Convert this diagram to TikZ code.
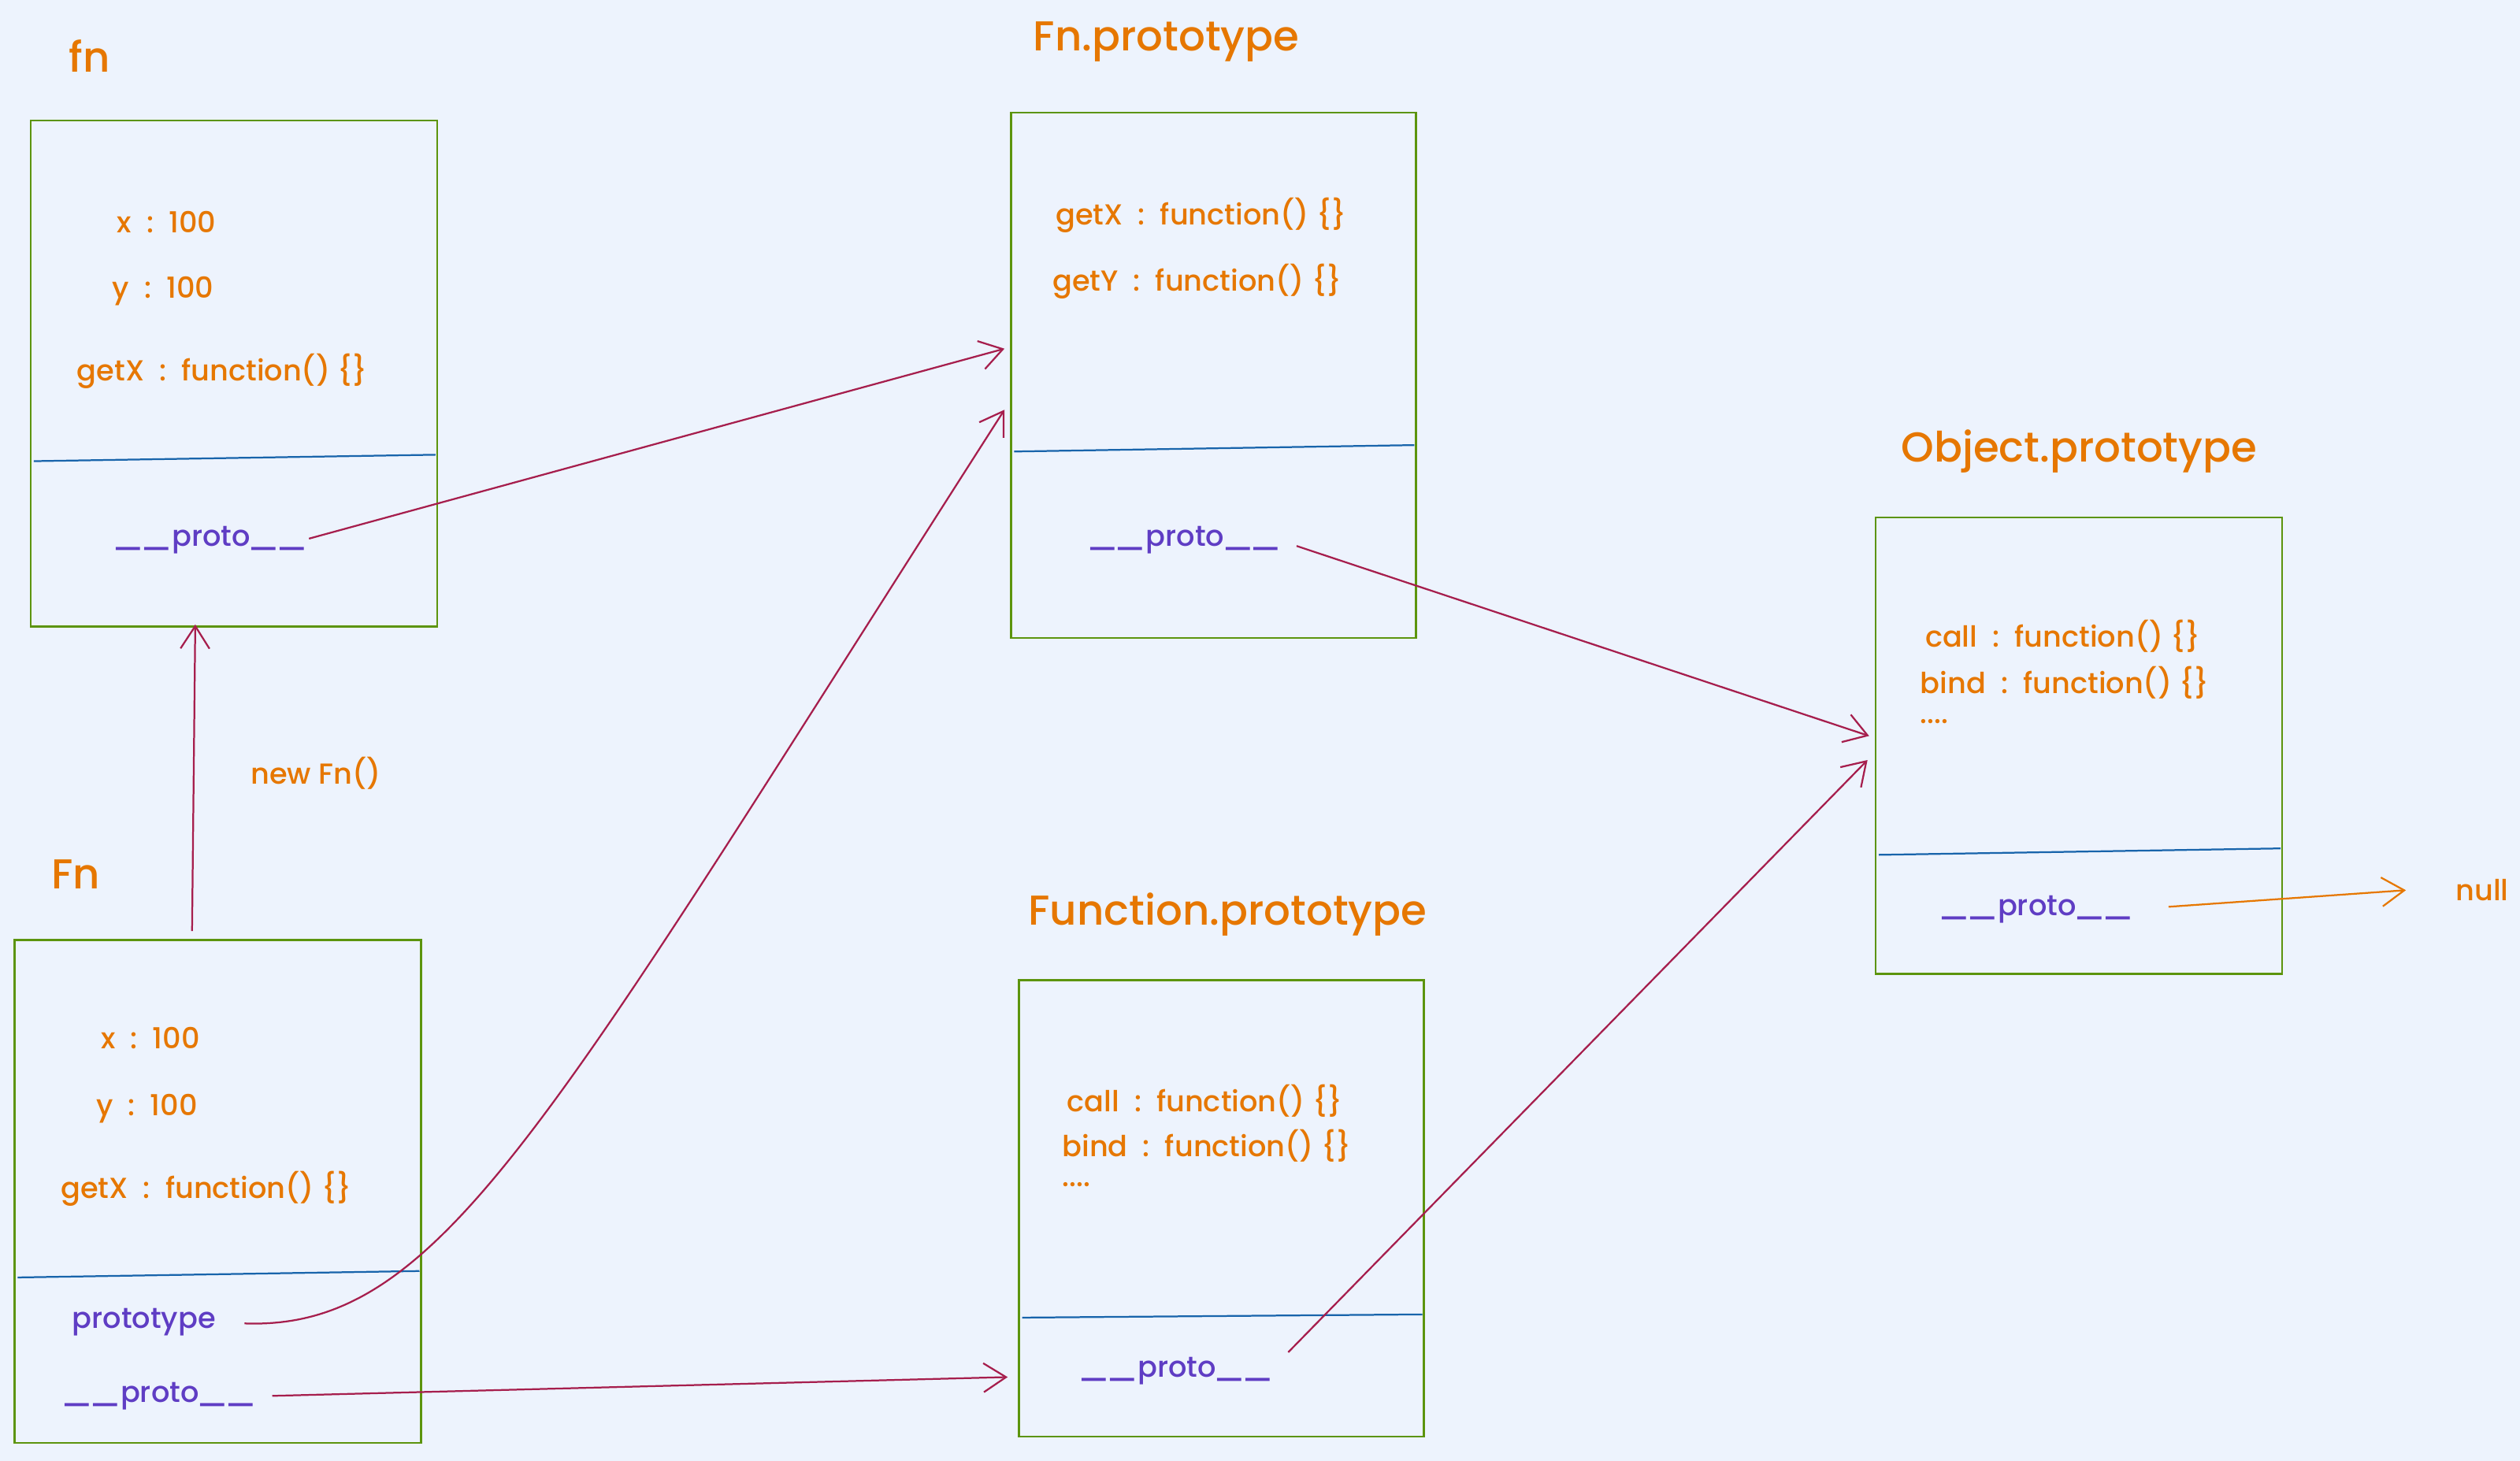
\documentclass[tikz,border=0pt]{standalone}
\usepackage{fontspec}
\setmainfont{Poppins}[UprightFont=* Medium]
\usepackage{tikz}
\usetikzlibrary{arrows.meta}

\definecolor{bgblue}{HTML}{EDF3FD}
\definecolor{boxgreen}{HTML}{5C940D}
\definecolor{divblue}{HTML}{1864AB}
\definecolor{keyorange}{HTML}{E67700}
\definecolor{protopurple}{HTML}{5F3DC4}
\definecolor{linkred}{HTML}{A61E4D}

\newcommand\wideus{\scalebox{1.5}[1]{\_}\kern-4pt}
\newcommand\protoname{\wideus\wideus\kern3pt proto\kern-2.5pt\wideus\wideus}

\tikzset{
  objbox/.style={draw=boxgreen, line width=1.2pt, inner sep=0pt},
  divider/.style={draw=divblue, line width=1.1pt},
  title/.style={anchor=west, inner sep=0.75pt, text=keyorange, font=\fontsize{26}{30}\selectfont},
  entry/.style={anchor=west, inner sep=0.75pt, text=keyorange, font=\fontsize{18}{21}\selectfont},
  protolbl/.style={anchor=west, inner sep=0.75pt, text=protopurple, font=\fontsize{18}{21}\selectfont},
  link/.style={draw=linkred, line width=1.1pt, -{Straight Barb[length=14pt,width=18pt,line width=1.1pt]}},
  nulllink/.style={draw=keyorange, line width=1.1pt, -{Straight Barb[length=14pt,width=18pt,line width=1.1pt]}}
}

\begin{document}
\begin{tikzpicture}[x=1pt,y=1pt,yscale=-1,xscale=1]
\fill[bgblue] (0,0) rectangle (1568,909);
\useasboundingbox (0,0) rectangle (1568,909);

%Shape: Rectangle fn
\node[objbox, minimum width=253pt, minimum height=315pt] (fnbox) at (145.5,232.5) {};
\draw[divider] (21,287) -- (271,283);
%Shape: Rectangle Fn
\node[objbox, minimum width=253pt, minimum height=313pt] (Fnbox) at (135.5,741.5) {};
\draw[divider] (11,795) -- (261,791);
%Shape: Rectangle Fn.prototype
\node[objbox, minimum width=252pt, minimum height=327pt] (fnpbox) at (755,233.5) {};
\draw[divider] (631,281) -- (880,277);
%Shape: Rectangle Function.prototype
\node[objbox, minimum width=252pt, minimum height=284pt] (funbox) at (760,752) {};
\draw[divider] (636,820) -- (885,818);
%Shape: Rectangle Object.prototype
\node[objbox, minimum width=253pt, minimum height=284pt] (objbox) at (1293.5,464) {};
\draw[divider] (1169,532) -- (1419,528);

% Text Node
\node[title] (fnlbl) at (42,35) {fn};
\node[title] (Fnlbl) at (31,544) {Fn};
\node[title] (fnplbl) at (642,26) {Fn.prototype};
\node[title] (funlbl) at (639,569) {Function.prototype};
\node[title] (objlbl) at (1182,281) {Object.prototype};

% Text Node
\node[entry] (fnx) at (72,138) {x~~:~~100};
\node[entry] (fny) at (69,181) {y~~:~~100};
\node[entry] (fngetx) at (47,231) {getX~~:~~function() \{\}};
\node[protolbl] (fnproto) at (68,336) {\protoname};

% Text Node
\node[entry] (Fnx) at (62,646) {x~~:~~100};
\node[entry] (Fny) at (59,690) {y~~:~~100};
\node[entry] (Fngetx) at (37,740) {getX~~:~~function() \{\}};
\node[protolbl] (Fnprototype) at (44,823) {prototype};
\node[protolbl] (Fnproto) at (36,869) {\protoname};

% Text Node
\node[entry] (fnpgetx) at (656,134) {getX~~:~~function() \{\}};
\node[entry] (fnpgety) at (654,175) {getY~~:~~function() \{\}};
\node[protolbl] (fnpproto) at (674,336) {\protoname};

% Text Node
\node[entry] (funcall) at (663,685) {call~~:~~function() \{\}};
\node[entry] (funbind) at (660,713) {bind~~:~~function() \{\}};
\node[entry] (fundots) at (660,737) {....};
\node[protolbl] (funproto) at (669,853) {\protoname};

% Text Node
\node[entry] (objcall) at (1197,396) {call~~:~~function() \{\}};
\node[entry] (objbind) at (1194,425) {bind~~:~~function() \{\}};
\node[entry] (objdots) at (1194,449) {....};
\node[protolbl] (objproto) at (1204,566) {\protoname};

% Text Node
\node[entry] (nulllbl) at (1527,554) {null};
\node[entry] (newlbl) at (155,481) {new Fn()};

% end points on the box edges
\coordinate (fnpin1) at (625,217);
\coordinate (fnpin2) at (625,255);
\coordinate (funin) at (627,857);
\coordinate (objin1) at (1163,458);
\coordinate (objin2) at (1162,473);

%Straight Lines
\draw[link, shorten <=3pt] (fnproto.east) -- (fnpin1);
%Curve Lines
\draw[link, shorten <=17pt] (Fnprototype.east) .. controls (275,828) and (340,700) .. (fnpin2);
%Straight Lines
\draw[link, shorten <=12pt] (Fnproto.east) -- (funin);
\draw[link] ([xshift=-16pt,yshift=-5pt]Fnbox.north) -- ([xshift=-24pt,yshift=-2pt]fnbox.south);
\draw[link, shorten <=12pt] (fnpproto.east) -- (objin1);
\draw[link, shorten <=16pt] (funproto.east) -- (objin2);
\draw[nulllink, shorten <=24pt] (objproto.east) -- ([xshift=-30pt]nulllbl.west);

\end{tikzpicture}
\end{document}
